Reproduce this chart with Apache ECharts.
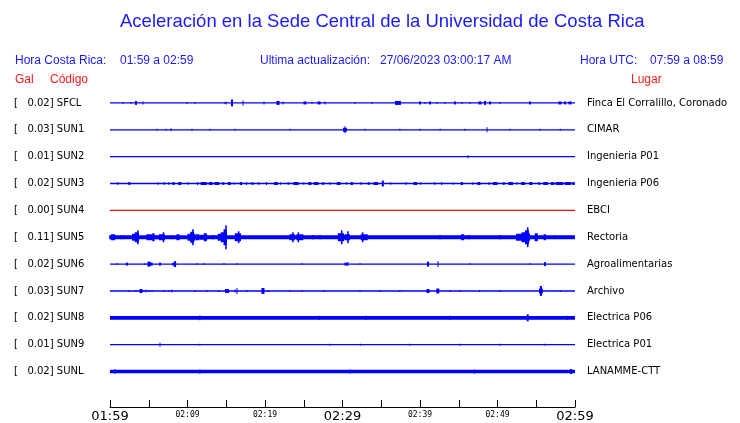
<!DOCTYPE html>
<html>
<head>
<meta charset="utf-8">
<script src="https://cdn.jsdelivr.net/npm/echarts@6/dist/echarts.min.js"></script>
<style>html,body{margin:0;padding:0;background:#fff}#c{width:740px;height:423px}</style>
</head>
<body>
<div id="c"></div>
<script>
// ---- data ----
const codes = ['SFCL','SUN1','SUN2','SUN3','SUN4','SUN5','SUN6','SUN7','SUN8','SUN9','SUNL'];
const galValues = [0.02,0.03,0.01,0.02,0.00,0.11,0.02,0.03,0.02,0.01,0.02];
const places = ['Finca El Corralillo, Coronado','CIMAR','Ingenieria P01','Ingenieria P06','EBCI','Rectoria','Agroalimentarias','Archivo','Electrica P06','Electrica P01','LANAMME-CTT'];
const tickLabels = ['01:59','02:04','02:09','02:14','02:19','02:24','02:29','02:34','02:39','02:44','02:49','02:54','02:59'];
// events: [minute since 01:59, half amplitude, duration (min)]
const sfclEvents = [[1.68,1,0.13],[2.71,1,0.13],[3.35,2,0.26],[4.26,1.5,0.13],[9.93,1,0.13],[10.97,1,0.13],[14.84,1,0.13],[14.97,1.5,0.13],[15.74,3.5,0.26],[17.16,2.5,0.13],[19.87,1.5,0.13],[21.68,2,0.39],[22.32,1.5,0.13],[25.16,1.5,0.39],[26.06,1,0.13],[26.97,1.5,0.39],[27.74,1.5,0.13],[31.6,1,0.13],[33.8,1,0.13],[37.16,2,0.77],[40.0,1.5,0.26],[40.65,1,0.13],[41.29,1.5,0.26],[42.19,1,0.13],[43.23,1,0.13],[44.52,1.5,0.26],[45.42,1,0.13],[46.45,1,0.13],[47.74,1.5,0.39],[48.39,2,0.26],[49.03,1.5,0.26],[50.32,1,0.13],[54.19,1.5,0.26],[58.06,1.5,0.39],[58.71,1.5,0.26],[59.35,1.5,0.39]];
const sun1Events = [[6.06,1,0.13],[7.23,1,0.13],[7.87,1.5,0.13],[10.58,1,0.13],[12.9,1,0.13],[16.13,1,0.13],[23.23,1,0.13],[30.32,3.5,0.13],[30.32,2,0.5],[32.9,1,0.13],[37.4,1,0.13],[40.0,1,0.13],[42.6,1,0.13],[45.8,1,0.13],[48.65,2.5,0.13],[51.6,1,0.13],[55.5,1,0.13],[58.1,1,0.13]];
const sun2Events = [[46.19,1.5,0.13]];
const sun3Events = [[1.0,1.5,0.13],[2.5,1.5,0.26],[6.2,1.2,0.13],[7.0,1.5,0.13],[7.6,1.2,0.13],[8.2,1.5,0.26],[9.0,1.5,0.39],[10.1,1.2,0.13],[11.3,1.5,0.13],[12.1,1.5,0.8],[13.0,1.5,0.5],[13.8,1.5,0.6],[14.6,1.2,0.3],[15.4,1.5,0.4],[16.0,1.2,0.13],[16.9,1.5,0.3],[17.6,1.5,0.13],[18.4,1.2,0.3],[19.2,1.5,0.13],[20.2,1.5,0.13],[21.4,1.5,0.5],[22.0,1.2,0.13],[23.0,1.5,0.13],[24.0,1.5,0.7],[25.0,1.2,0.13],[25.8,1.5,0.4],[26.6,1.5,0.6],[27.5,1.2,0.3],[28.4,1.5,0.13],[29.5,1.5,0.5],[30.5,1.2,0.13],[31.2,1.5,0.3],[32.4,1.5,0.13],[33.4,1.2,0.3],[34.3,1.5,0.6],[35.2,3,0.26],[36.2,1.2,0.13],[38.2,1.5,0.13],[39.4,1.5,0.5],[40.1,1.2,0.13],[41.9,1.5,0.13],[42.8,1.5,0.13],[44.3,1.2,0.13],[45.4,1.5,0.3],[46.8,1.2,0.13],[47.6,1.5,0.4],[48.9,1.5,0.13],[49.7,1.5,0.6],[50.8,1.2,0.3],[51.7,1.5,0.6],[52.5,1.2,0.13],[53.3,1.5,0.5],[54.3,1.5,0.4],[55.4,1.2,0.3],[56.2,1.5,0.6],[57.1,1.5,0.4],[58.0,1.5,1.0],[59.1,1.5,0.8],[59.8,1.5,0.3]];
const sun4Events = [];
const sun5Events = [[0.39,3,0.5],[0.3,2,0.8],[1.42,2,0.13],[1.81,2,0.13],[2.3,1.5,0.13],[3.6,7,0.2],[3.45,5,0.5],[3.3,3.5,0.9],[5.1,3,0.8],[5.6,4,0.3],[6.0,2,0.3],[6.9,5,0.2],[6.7,3,0.8],[8.0,2,0.13],[8.77,3,0.4],[10.7,8,0.2],[10.6,5.5,0.5],[10.5,3.5,1.0],[11.3,3,0.5],[11.7,2,0.13],[12.3,4,0.4],[12.1,2.5,0.9],[13.3,2,0.26],[14.97,12,0.2],[14.85,8,0.4],[14.7,5,0.8],[14.5,3.5,1.2],[16.6,6,0.2],[16.5,4,0.8],[20.65,1.5,0.13],[22.19,1.5,0.13],[23.6,5,0.2],[23.5,3,0.7],[24.3,5,0.2],[24.5,3,0.9],[26.2,2,0.26],[27.1,2,0.26],[28.1,1.5,0.13],[29.9,7,0.2],[29.8,4,0.8],[30.7,6,0.2],[30.6,3,0.7],[32.6,5,0.2],[32.8,3,0.9],[36.8,1.5,0.13],[38.1,1.5,0.13],[42.6,2,0.26],[45.5,3,0.4],[46.3,2,0.3],[49.0,1.5,0.13],[50.3,2,0.26],[53.9,10,0.2],[53.8,7,0.5],[53.6,5,1.0],[53.3,3.5,1.8],[55.0,4,0.4],[56.1,3,0.3],[57.4,2,0.13],[59.3,1.5,0.13]];
const sun6Events = [[0.9,1,0.13],[2.19,1.5,0.26],[4.52,1,0.13],[5.03,2.5,0.39],[5.2,1.5,0.6],[6.45,1.5,0.26],[8.39,3,0.26],[8.3,1.5,0.5],[11.23,1,0.13],[12.13,1,0.13],[14.71,1,0.13],[16.39,1,0.13],[24.77,1,0.13],[30.45,1.5,0.39],[30.71,2,0.13],[32.26,1,0.13],[41.03,2.5,0.26],[42.32,3,0.13],[46.45,1,0.13],[54.19,1,0.13],[56.13,2,0.26]];
const sun7Events = [[2.45,1,0.13],[3.35,1,0.13],[4.0,2,0.39],[4.39,1,0.13],[4.65,1.5,0.13],[5.03,1,0.13],[5.42,1,0.13],[6.97,1,0.13],[7.61,1,0.13],[8.0,1.5,0.13],[10.97,1,0.13],[12.52,1,0.13],[14.06,1,0.13],[15.1,2,0.52],[16.13,1.5,0.13],[16.39,3,0.13],[17.68,1,0.13],[19.74,3,0.39],[20.39,1,0.13],[23.23,1,0.13],[24.77,1,0.13],[27.61,1,0.13],[32.26,1,0.13],[34.84,1,0.13],[37.4,1,0.13],[41.03,2,0.39],[42.3,2.5,0.39],[43.9,1,0.13],[45.2,1,0.13],[47.7,1,0.13],[50.3,1,0.13],[55.6,5,0.26],[55.6,2.5,0.5],[58.1,1,0.13]];
const sun8Events = [[11.6,2.5,0.13],[27.0,2.2,0.13],[33.0,2.2,0.13],[43.9,2.2,0.13],[53.9,3.5,0.26],[59.0,2.2,0.13]];
const sun9Events = [[6.45,2,0.13],[11.6,1,0.13],[28.4,1,0.13],[32.3,1,0.13],[38.7,1,0.13],[45.2,1,0.13],[50.3,1,0.13],[56.1,1,0.13]];
const sunlEvents = [[0.65,2.5,0.13],[11.6,2.2,0.13],[30.97,2.2,0.13],[47.0,2.2,0.13],[59.5,2.5,0.26]];
const allEvents = [sfclEvents,sun1Events,sun2Events,sun3Events,sun4Events,sun5Events,sun6Events,sun7Events,sun8Events,sun9Events,sunlEvents];

// ---- styles ----
const BLUE = '#0000ff';
const traceWidths = [1.3,1.3,1.3,1.5,1.2,4,1.3,1.3,3.6,1.2,3.6];
const traceColors = codes.map(c => c === 'SUN4' ? '#e01010' : BLUE);
const ROW = 27;
const rowY = i => ROW / 2 + ROW * i;

const chart = echarts.init(document.getElementById('c'), null, {renderer: 'canvas'});

const series = [];
codes.forEach((code, i) => {
  series.push({
    type: 'line', xAxisIndex: 0, yAxisIndex: 0, symbol: 'none', silent: true, animation: false,
    data: [[0, rowY(i)], [60, rowY(i)]],
    lineStyle: {color: traceColors[i], width: traceWidths[i]}
  });
  series.push({
    type: 'custom', xAxisIndex: 0, yAxisIndex: 0, silent: true, animation: false, clip: false,
    data: allEvents[i].map(e => [e[0], rowY(i), e[1], e[2]]),
    renderItem: function (params, api) {
      const t = api.value(0), y = api.value(1), a = api.value(2), d = api.value(3);
      const p1 = api.coord([t - d / 2, y - a]);
      const p2 = api.coord([t + d / 2, y + a]);
      const x = Math.min(p1[0], p2[0]);
      const w = Math.max(Math.abs(p2[0] - p1[0]), 1);
      const yy = Math.min(p1[1], p2[1]);
      const h = Math.abs(p2[1] - p1[1]);
      return {type: 'rect', shape: {x: x, y: yy, width: w, height: h}, style: {fill: traceColors[i]}};
    }
  });
});

const hdr = {fontFamily: 'Liberation Sans', fontSize: 12};
const graphic = [
  {type: 'text', x: 120, y: 22, style: {text: 'Aceleración en la Sede Central de la Universidad de Costa Rica', fill: '#1a1aff', fontFamily: 'Liberation Sans', fontSize: 18.5, verticalAlign: 'middle'}},
  {type: 'text', x: 15, y: 61, style: Object.assign({text: 'Hora Costa Rica:', fill: '#1a1aff', verticalAlign: 'middle'}, hdr)},
  {type: 'text', x: 120, y: 61, style: Object.assign({text: '01:59 a 02:59', fill: '#1a1aff', verticalAlign: 'middle'}, hdr)},
  {type: 'text', x: 260, y: 61, style: Object.assign({text: 'Ultima actualización:', fill: '#1a1aff', verticalAlign: 'middle'}, hdr)},
  {type: 'text', x: 380, y: 61, style: Object.assign({text: '27/06/2023 03:00:17 AM', fill: '#1a1aff', verticalAlign: 'middle'}, hdr)},
  {type: 'text', x: 580, y: 61, style: Object.assign({text: 'Hora UTC:', fill: '#1a1aff', verticalAlign: 'middle'}, hdr)},
  {type: 'text', x: 650, y: 61, style: Object.assign({text: '07:59 a 08:59', fill: '#1a1aff', verticalAlign: 'middle'}, hdr)},
  {type: 'text', x: 15, y: 80, style: Object.assign({text: 'Gal', fill: '#ff1a1a', verticalAlign: 'middle'}, hdr)},
  {type: 'text', x: 50, y: 80, style: Object.assign({text: 'Código', fill: '#ff1a1a', verticalAlign: 'middle'}, hdr)},
  {type: 'text', x: 631, y: 80, style: Object.assign({text: 'Lugar', fill: '#ff1a1a', verticalAlign: 'middle'}, hdr)}
];

const option = {
  animation: false,
  backgroundColor: '#ffffff',
  grid: {left: 110, width: 465, top: 89.5, height: 297.5, containLabel: false},
  xAxis: [{
    type: 'value', min: 0, max: 60, interval: 5, offset: 22,
    axisLine: {show: true, onZero: false, lineStyle: {color: '#000', width: 1}},
    axisTick: {show: true, inside: true, length: 7, lineStyle: {color: '#000', width: 1}},
    splitLine: {show: false},
    axisLabel: {
      show: true, margin: 3, showMinLabel: true, showMaxLabel: true,
      formatter: function (v) {
        const idx = Math.round(v / 5);
        if (idx % 2 === 1) return '';
        return idx % 6 === 0 ? '{big|' + tickLabels[idx] + '}' : '{small|' + tickLabels[idx] + '}';
      },
      rich: {
        big: {fontFamily: 'DejaVu Sans', fontSize: 13, color: '#000', padding: [0, 0, 0, 0]},
        small: {fontFamily: 'DejaVu Sans Mono', fontSize: 8, color: '#000', padding: [1, 0, 0, 0]}
      }
    }
  }],
  yAxis: [
    {type: 'value', min: 0, max: ROW * codes.length, inverse: true, show: false},
    {type: 'category', position: 'left', inverse: true, data: codes,
      axisLine: {show: false}, axisTick: {show: false}, splitLine: {show: false},
      axisLabel: {show: true, align: 'left', margin: 96, color: '#000', fontFamily: 'DejaVu Sans', fontSize: 10,
        formatter: function (v, i) { return '[   ' + galValues[i].toFixed(2) + '] ' + v; }}
    },
    {type: 'category', position: 'right', inverse: true, data: places,
      axisLine: {show: false}, axisTick: {show: false}, splitLine: {show: false},
      axisLabel: {show: true, align: 'left', margin: 12, color: '#000', fontFamily: 'DejaVu Sans', fontSize: 10}
    }
  ],
  series: series,
  graphic: graphic
};
chart.setOption(option);
</script>
</body>
</html>
